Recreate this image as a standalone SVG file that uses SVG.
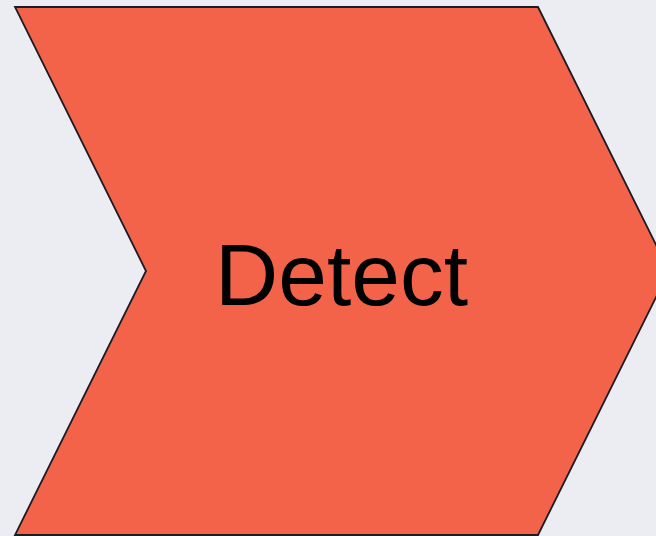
<svg xmlns="http://www.w3.org/2000/svg" width="656" height="536" viewBox="0 0 656 536">
<style>
.shape{fill:#F2634A;stroke:#1b1b24;stroke-width:1.8;stroke-linejoin:miter}
.label{font-family:"Liberation Sans",Arial,sans-serif;font-size:87px;fill:#000;text-anchor:middle}
</style>
<rect width="656" height="536" fill="#ECEDF2"/>
<g id="detect">
<path class="shape" d="M15,7 L538,7 L669,271 L538,535 L15,535 L146,271 Z"/>
<text class="label" x="341.5" y="305" textLength="253" lengthAdjust="spacingAndGlyphs">Detect</text>
</g>
<g id="connectors"/>
</svg>
